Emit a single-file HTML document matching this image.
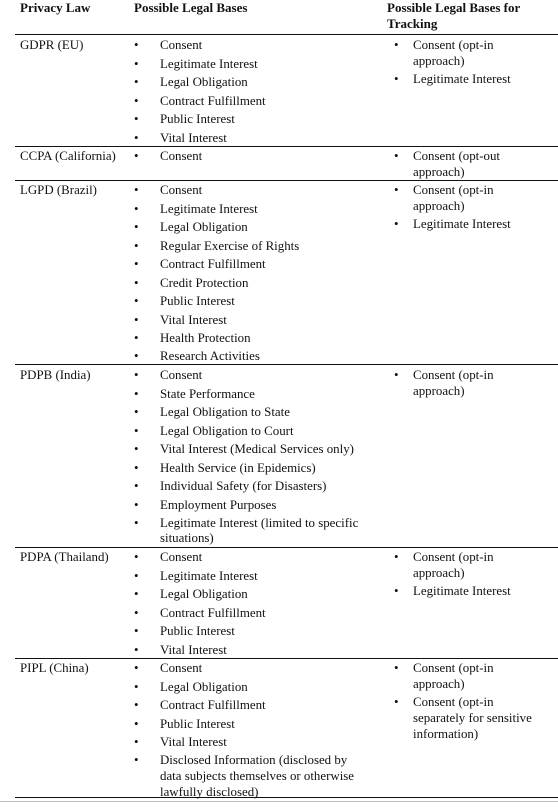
<!DOCTYPE html>
<html><head><meta charset="utf-8"><style>
body{margin:0;width:558px;height:809px;background:#fff;position:relative;overflow:hidden;font-family:"Liberation Serif",serif;color:#111;font-size:12.9px}
div{position:absolute;white-space:nowrap;line-height:16px}
.h{font-weight:bold;font-size:13px}
.l{left:15px;width:543px;height:0;border-top:1.3px solid #111}
</style></head><body>
<div class="h" style="left:20px;top:0px">Privacy Law</div>
<div class="h" style="left:134px;top:0px">Possible Legal Bases</div>
<div class="h" style="left:387px;top:0px">Possible Legal Bases for</div>
<div class="h" style="left:387px;top:16px">Tracking</div>
<div class="l" style="top:34px"></div>
<div class="l" style="top:146px"></div>
<div class="l" style="top:180px"></div>
<div class="l" style="top:364px"></div>
<div class="l" style="top:547px"></div>
<div class="l" style="top:658px"></div>
<div class="l" style="top:797px"></div>
<div style="left:0;top:801px;width:558px;height:1px;background:#bbb"></div>

<div style="left:20px;top:37px">GDPR (EU)</div>
<div style="left:20px;top:148px">CCPA (California)</div>
<div style="left:20px;top:182px">LGPD (Brazil)</div>
<div style="left:20px;top:367px">PDPB (India)</div>
<div style="left:20px;top:549px">PDPA (Thailand)</div>
<div style="left:20px;top:660px">PIPL (China)</div>

<div style="left:134px;top:37px">•</div><div style="left:160px;top:37px">Consent</div>
<div style="left:134px;top:56px">•</div><div style="left:160px;top:56px">Legitimate Interest</div>
<div style="left:134px;top:74px">•</div><div style="left:160px;top:74px">Legal Obligation</div>
<div style="left:134px;top:93px">•</div><div style="left:160px;top:93px">Contract Fulfillment</div>
<div style="left:134px;top:111px">•</div><div style="left:160px;top:111px">Public Interest</div>
<div style="left:134px;top:130px">•</div><div style="left:160px;top:130px">Vital Interest</div>

<div style="left:134px;top:148px">•</div><div style="left:160px;top:148px">Consent</div>

<div style="left:134px;top:182px">•</div><div style="left:160px;top:182px">Consent</div>
<div style="left:134px;top:201px">•</div><div style="left:160px;top:201px">Legitimate Interest</div>
<div style="left:134px;top:219px">•</div><div style="left:160px;top:219px">Legal Obligation</div>
<div style="left:134px;top:238px">•</div><div style="left:160px;top:238px">Regular Exercise of Rights</div>
<div style="left:134px;top:256px">•</div><div style="left:160px;top:256px">Contract Fulfillment</div>
<div style="left:134px;top:275px">•</div><div style="left:160px;top:275px">Credit Protection</div>
<div style="left:134px;top:293px">•</div><div style="left:160px;top:293px">Public Interest</div>
<div style="left:134px;top:312px">•</div><div style="left:160px;top:312px">Vital Interest</div>
<div style="left:134px;top:330px">•</div><div style="left:160px;top:330px">Health Protection</div>
<div style="left:134px;top:348px">•</div><div style="left:160px;top:348px">Research Activities</div>

<div style="left:134px;top:367px">•</div><div style="left:160px;top:367px">Consent</div>
<div style="left:134px;top:386px">•</div><div style="left:160px;top:386px">State Performance</div>
<div style="left:134px;top:404px">•</div><div style="left:160px;top:404px">Legal Obligation to State</div>
<div style="left:134px;top:423px">•</div><div style="left:160px;top:423px">Legal Obligation to Court</div>
<div style="left:134px;top:441px">•</div><div style="left:160px;top:441px">Vital Interest (Medical Services only)</div>
<div style="left:134px;top:460px">•</div><div style="left:160px;top:460px">Health Service (in Epidemics)</div>
<div style="left:134px;top:478px">•</div><div style="left:160px;top:478px">Individual Safety (for Disasters)</div>
<div style="left:134px;top:497px">•</div><div style="left:160px;top:497px">Employment Purposes</div>
<div style="left:134px;top:515px">•</div><div style="left:160px;top:515px">Legitimate Interest (limited to specific</div>
<div style="left:160px;top:530px">situations)</div>

<div style="left:134px;top:549px">•</div><div style="left:160px;top:549px">Consent</div>
<div style="left:134px;top:568px">•</div><div style="left:160px;top:568px">Legitimate Interest</div>
<div style="left:134px;top:586px">•</div><div style="left:160px;top:586px">Legal Obligation</div>
<div style="left:134px;top:605px">•</div><div style="left:160px;top:605px">Contract Fulfillment</div>
<div style="left:134px;top:623px">•</div><div style="left:160px;top:623px">Public Interest</div>
<div style="left:134px;top:642px">•</div><div style="left:160px;top:642px">Vital Interest</div>

<div style="left:134px;top:660px">•</div><div style="left:160px;top:660px">Consent</div>
<div style="left:134px;top:679px">•</div><div style="left:160px;top:679px">Legal Obligation</div>
<div style="left:134px;top:697px">•</div><div style="left:160px;top:697px">Contract Fulfillment</div>
<div style="left:134px;top:716px">•</div><div style="left:160px;top:716px">Public Interest</div>
<div style="left:134px;top:734px">•</div><div style="left:160px;top:734px">Vital Interest</div>
<div style="left:134px;top:752px">•</div><div style="left:160px;top:752px">Disclosed Information (disclosed by</div>
<div style="left:160px;top:768px">data subjects themselves or otherwise</div>
<div style="left:160px;top:784px">lawfully disclosed)</div>

<div style="left:394px;top:37px">•</div><div style="left:413px;top:37px">Consent (opt-in</div>
<div style="left:413px;top:53px">approach)</div>
<div style="left:394px;top:71px">•</div><div style="left:413px;top:71px">Legitimate Interest</div>

<div style="left:394px;top:148px">•</div><div style="left:413px;top:148px">Consent (opt-out</div>
<div style="left:413px;top:164px">approach)</div>

<div style="left:394px;top:182px">•</div><div style="left:413px;top:182px">Consent (opt-in</div>
<div style="left:413px;top:198px">approach)</div>
<div style="left:394px;top:216px">•</div><div style="left:413px;top:216px">Legitimate Interest</div>

<div style="left:394px;top:367px">•</div><div style="left:413px;top:367px">Consent (opt-in</div>
<div style="left:413px;top:383px">approach)</div>

<div style="left:394px;top:549px">•</div><div style="left:413px;top:549px">Consent (opt-in</div>
<div style="left:413px;top:565px">approach)</div>
<div style="left:394px;top:583px">•</div><div style="left:413px;top:583px">Legitimate Interest</div>

<div style="left:394px;top:660px">•</div><div style="left:413px;top:660px">Consent (opt-in</div>
<div style="left:413px;top:676px">approach)</div>
<div style="left:394px;top:694px">•</div><div style="left:413px;top:694px">Consent (opt-in</div>
<div style="left:413px;top:710px">separately for sensitive</div>
<div style="left:413px;top:726px">information)</div>
</body></html>
